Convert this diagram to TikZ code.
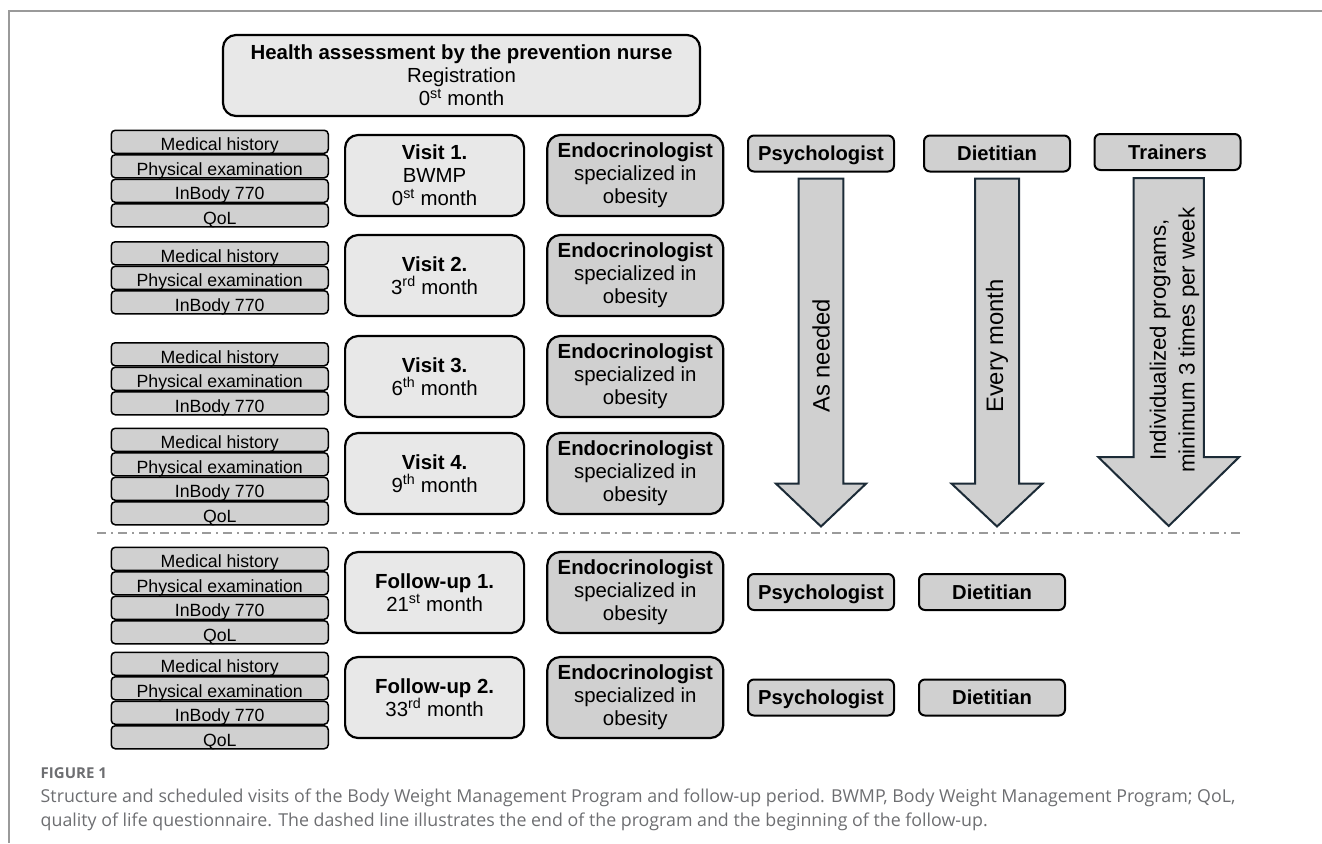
\documentclass[tikz,border=0pt]{standalone}
\usepackage{fontspec}
\setmainfont{Liberation Sans}
\newfontfamily\capfont{Open Sans}
\usepackage{tikz}
\usetikzlibrary{positioning}
\definecolor{boxlight}{HTML}{E8E8E8}
\definecolor{boxdark}{HTML}{D0D0D0}
\definecolor{arrowline}{HTML}{1C2B37}
\definecolor{framegray}{HTML}{9A9A9A}
\definecolor{captext}{HTML}{6D6E71}
\tikzset{
  itembox/.style={draw, fill=boxdark, rounded corners=4pt, line width=1.5pt, minimum width=217pt, minimum height=23pt, inner sep=0pt, text height=18pt, text depth=0pt, font=\fontsize{17.7}{20}\selectfont},
  visitbox/.style={draw, fill=boxlight, rounded corners=13pt, line width=2.2pt, minimum width=179pt, minimum height=81pt, align=center, inner sep=0pt, font=\fontsize{20.4}{23}\selectfont},
  endobox/.style={visitbox, fill=boxdark, minimum width=176pt},
  staffbox/.style={draw, fill=boxdark, rounded corners=6pt, line width=2pt, minimum width=146pt, minimum height=36pt, inner sep=0pt, text height=14.5pt, text depth=0pt, font=\fontsize{20.2}{23}\selectfont\bfseries},
  bigarrow/.style={draw=arrowline, fill=boxdark, line width=2pt, line join=miter},
  arrowtext/.style={rotate=90, inner sep=0pt, align=center},
  endline/.style={framegray, line width=1.6pt, dash pattern=on 9pt off 5pt on 2pt off 5pt}
}
\newcommand\monthno[2]{#1\textsuperscript{#2} month}

\begin{document}
\begin{tikzpicture}[x=1pt, y=-1pt]
\useasboundingbox (0,0) rectangle (1322,843);
\draw[framegray, line width=1.5pt] (1322,11) -- (9,11) -- (9,843);

\node[visitbox, minimum width=477pt] (nurse) at (461.5,75.5) {\textbf{Health assessment by the prevention nurse}\\Registration\\\monthno{0}{st}};

% visits
\node[visitbox] (v1) at (434.6,175.5) {\textbf{Visit 1.}\\BWMP\\\monthno{0}{st}};
\node[visitbox] (v2) at (434.6,275.5) {\textbf{Visit 2.}\\\monthno{3}{rd}};
\node[visitbox] (v3) at (434.6,376.5) {\textbf{Visit 3.}\\\monthno{6}{th}};
\node[visitbox] (v4) at (434.6,473.5) {\textbf{Visit 4.}\\\monthno{9}{th}};
\node[visitbox] (f1) at (434.6,592.5) {\textbf{Follow-up 1.}\\\monthno{21}{st}};
\node[visitbox] (f2) at (434.6,697.5) {\textbf{Follow-up 2.}\\\monthno{33}{rd}};

\foreach \v/\n in {v1/4,v2/3,v3/3,v4/4,f1/4,f2/4} {
  \node[endobox, right=21pt of \v] (\v-endo) {\textbf{Endocrinologist}\\specialized in\\obesity};
  \node[itembox, anchor=north east] (\v-mh) at ([xshift=-15pt, yshift=\n*11.5pt]\v.west) {Medical history};
  \node[itembox, below=0pt of \v-mh] (\v-pe) {Physical examination};
  \node[itembox, below=0pt of \v-pe] (\v-ib) {InBody 770};
  \ifnum\n=4 \node[itembox, below=0pt of \v-ib] (\v-qol) {QoL}; \fi
}

% staff
\node[staffbox] (psy) at (821,153.5) {Psychologist};
\node[staffbox] (diet) at (997,153.5) {Dietitian};
\node[staffbox] (train) at (1167.5,152) {Trainers};
\node[staffbox] (f1-psy) at (821,592) {Psychologist};
\node[staffbox] (f1-diet) at (992,592) {Dietitian};
\node[staffbox] (f2-psy) at (821,697.5) {Psychologist};
\node[staffbox] (f2-diet) at (992,697.5) {Dietitian};

\draw[bigarrow] ([xshift=-22.3pt, yshift=-6pt]psy.south) -- ++(44.6,0) -- ++(0,305) -- ++(22.9,0) -- ++(-45.2,43) -- ++(-45.2,-43) -- ++(22.9,0) -- cycle;
\draw[bigarrow] ([xshift=-22pt, yshift=-6pt]diet.south) -- ++(44,0) -- ++(0,305) -- ++(23.6,0) -- ++(-45.6,43) -- ++(-45.6,-43) -- ++(23.6,0) -- cycle;
\draw[bigarrow] ([xshift=-34pt, yshift=-7pt]train.south) -- ++(70.4,0) -- ++(0,279) -- ++(35.3,0) -- ++(-70.5,69) -- ++(-70.5,-69) -- ++(35.3,0) -- cycle;

\node[arrowtext, anchor=west, font=\fontsize{23.8}{28}\selectfont] (psy-txt) at (821,413) {As needed};
\node[arrowtext, anchor=west, font=\fontsize{23.8}{28}\selectfont] (diet-txt) at (997,413) {Every month};
\node[arrowtext, font=\fontsize{22.3}{28.6}\selectfont] (train-txt) at (1174.5,340) {Individualized programs,\\minimum 3 times per week};

\draw[endline] (97,533) -- (1240,533);

% caption
\node[anchor=base west, inner sep=0pt, text=captext, font=\capfont\fontsize{15}{18}\selectfont\bfseries] (figlabel) at (40.5,778.3) {FIGURE 1};
\node[anchor=base west, inner sep=0pt, text=captext, align=left, font=\capfont\fontsize{17.8}{24}\selectfont] (caption) at (40.5,826.5) {Structure and scheduled visits of the Body Weight Management Program and follow-up period. BWMP, Body Weight Management Program; QoL,\\quality of life questionnaire. The dashed line illustrates the end of the program and the beginning of the follow-up.};
\end{tikzpicture}
\end{document}
